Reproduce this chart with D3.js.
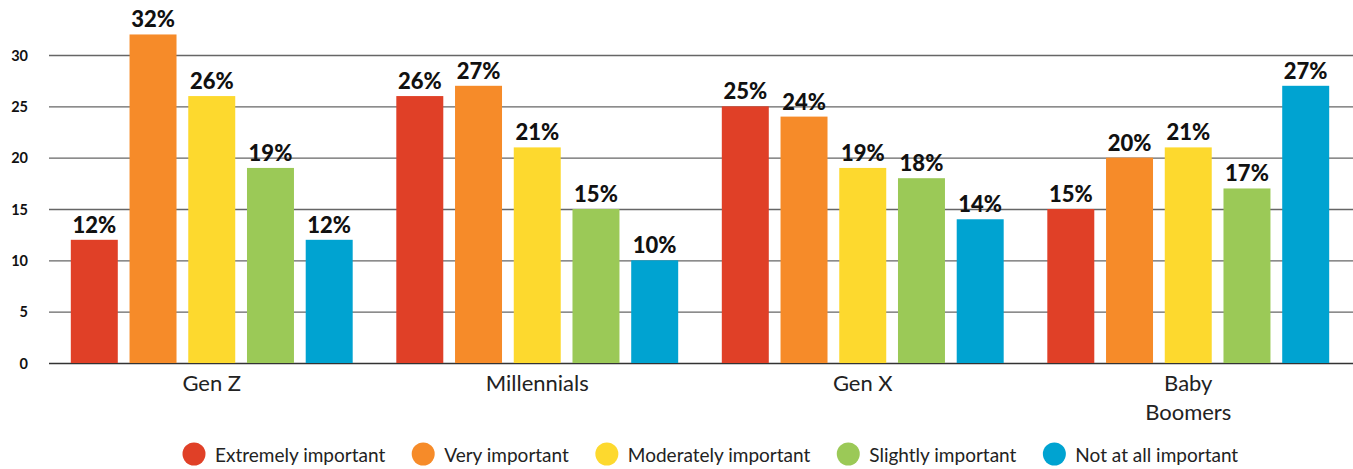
<!DOCTYPE html>
<html>
<head>
<meta charset="utf-8">
<script src="https://cdn.jsdelivr.net/npm/d3@7"></script>
<style>
  html, body { margin: 0; padding: 0; background: #fff; }
  svg { display: block; }
</style>
</head>
<body>
<svg id="chart" width="1353" height="469"></svg>
<script>
// Survey answers by generation (percent of respondents)
const generations = ["Gen Z", "Millennials", "Gen X", "Baby Boomers"];
const responses = ["Extremely important", "Very important", "Moderately important", "Slightly important", "Not at all important"];
const extremely  = [12, 26, 25, 15];
const very       = [32, 27, 24, 20];
const moderately = [26, 21, 19, 21];
const slightly   = [19, 15, 18, 17];
const notAtAll   = [12, 10, 14, 27];
const yTicks = [0, 5, 10, 15, 20, 25, 30];
const colors = ["#E04027", "#F68B29", "#FDD92E", "#9BC957", "#00A3D1"];

const seriesValues = [extremely, very, moderately, slightly, notAtAll];
const rows = generations.map((g, gi) => ({
  group: g,
  values: responses.map((r, ri) => ({ key: r, value: seriesValues[ri][gi] }))
}));

const svg = d3.select("#chart");

const y = d3.scaleLinear().domain([0, 30]).range([363, 55]);
const x0 = d3.scaleBand().domain(generations).range([49, 1351])
  .paddingInner(0.134).paddingOuter(0.067);
const x1 = d3.scaleBand().domain(responses).range([0, x0.bandwidth()])
  .paddingInner(0.2).paddingOuter(0);
const color = d3.scaleOrdinal().domain(responses).range(colors);

// Horizontal grid lines
const yAxis = d3.axisLeft(y).tickValues(yTicks).tickSize(0).tickPadding(0);
const gAxis = svg.append("g").attr("transform", "translate(49,0)").call(yAxis);
gAxis.select(".domain").remove();
gAxis.selectAll(".tick text")
  .attr("x", -21)
  .attr("dy", "0.36em")
  .style("font-family", "Lato, 'Open Sans', sans-serif")
  .style("font-weight", "700")
  .style("font-size", "14.5px")
  .style("fill", "#111");
gAxis.selectAll(".tick line").remove();
gAxis.selectAll(".tick").append("line")
  .attr("x1", 0).attr("x2", 1353 - 49)
  .attr("stroke", d => d === 0 ? "#333" : "#666")
  .attr("stroke-width", 1.4);

// Bars
const groups = svg.append("g").selectAll("g").data(rows).join("g")
  .attr("transform", d => `translate(${x0(d.group)},0)`);

groups.selectAll("rect").data(d => d.values).join("rect")
  .attr("x", d => x1(d.key))
  .attr("y", d => y(d.value))
  .attr("width", x1.bandwidth())
  .attr("height", d => y(0) - y(d.value))
  .attr("fill", d => color(d.key));

// Value labels
groups.selectAll("text.val").data(d => d.values).join("text")
  .attr("class", "val")
  .attr("x", d => x1(d.key) + x1.bandwidth() / 2)
  .attr("y", d => y(d.value) - 7)
  .attr("text-anchor", "middle")
  .style("font-family", "Lato, 'Open Sans', sans-serif")
  .style("font-weight", "900")
  .style("font-size", "22px")
  .style("fill", "#111")
  .text(d => d.value + "%");

// Category labels along the bottom
const xAxis = d3.axisBottom(x0).tickSize(0).tickPadding(0);
const gx = svg.append("g").attr("transform", "translate(0,363)").call(xAxis);
gx.select(".domain").remove();
gx.selectAll(".tick text").each(function(d) {
  const t = d3.select(this);
  t.text(null).attr("y", 0).attr("dy", null)
    .style("font-family", "Lato, 'Open Sans', sans-serif")
    .style("font-weight", "400")
    .style("font-size", "22px")
    .style("fill", "#222");
  const words = d === "Baby Boomers" ? ["Baby", "Boomers"] : [d];
  words.forEach((w, i) => {
    t.append("tspan").attr("x", 0).attr("y", 28 + i * 29).text(w);
  });
});

// Legend
const legend = svg.append("g");
const items = legend.selectAll("g").data(responses).join("g");
items.append("circle").attr("r", 11.5).attr("cx", 0).attr("cy", 454)
  .attr("fill", d => color(d));
items.append("text")
  .attr("x", 21).attr("y", 462)
  .style("font-family", "Lato, 'Open Sans', sans-serif")
  .style("font-size", "19px")
  .style("fill", "#222")
  .text(d => d);
let cursor = 194;
const positions = [];
items.each(function() {
  const w = d3.select(this).select("text").node().getComputedTextLength();
  positions.push(cursor);
  cursor += 21 + w + 38;
});
items.attr("transform", (d, i) => `translate(${positions[i]},0)`);
</script>
</body>
</html>
